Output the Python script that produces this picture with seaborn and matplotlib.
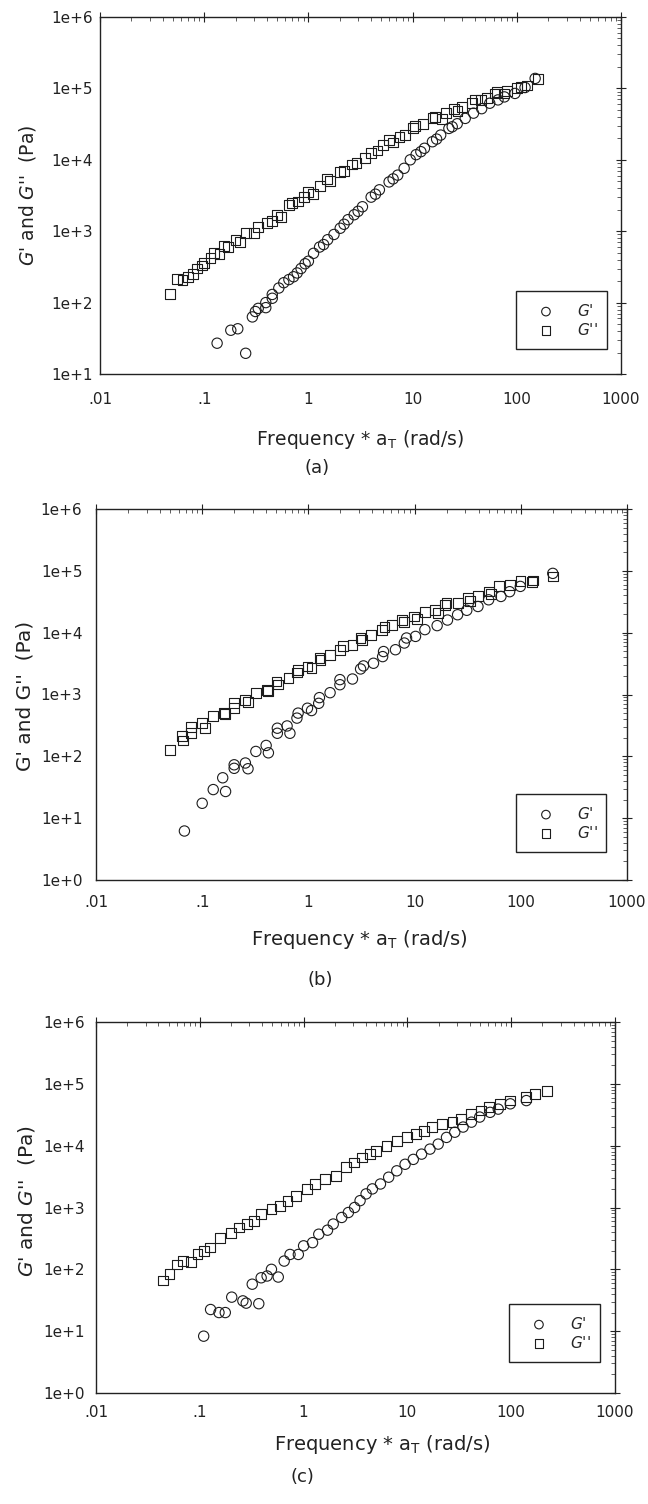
import numpy as np
import pandas as pd
import matplotlib
matplotlib.use("Agg")
import matplotlib.pyplot as plt
from matplotlib.ticker import LogLocator, NullFormatter
import seaborn as sns

# ---------------- data ----------------
a_gpp_x = [0.047, 0.055, 0.062, 0.07, 0.078, 0.085, 0.095, 0.1, 0.115, 0.125, 0.14, 0.155, 0.17, 0.2, 0.22,
           0.25, 0.3, 0.33, 0.4, 0.45, 0.5, 0.55, 0.65, 0.7, 0.8, 0.9, 1.0, 1.1, 1.3, 1.5, 1.6, 2.0, 2.2,
           2.6, 2.9, 3.5, 4.0, 4.6, 5.2, 5.9, 6.5, 7.5, 8.5, 10.0, 10.5, 12.5, 15.5, 16.5, 19, 21, 25, 27,
           30, 37, 40, 45, 52, 62, 65, 75, 80, 100, 110, 125, 160]
a_gpp_y = [132, 215, 210, 230, 250, 300, 330, 360, 420, 500, 480, 620, 600, 760, 700,
           950, 950, 1150, 1300, 1400, 1700, 1600, 2300, 2500, 2600, 3000, 3500, 3300, 4300, 5400, 5000, 6800, 7000,
           8600, 9000, 10500, 12500, 13500, 16000, 19000, 17500, 21000, 22500, 28000, 30000, 32000, 38000, 40000, 37000, 45000, 52000, 48000,
           55000, 62000, 70000, 68000, 74000, 85000, 90000, 85000, 92000, 100000, 105000, 110000, 135000]
a_gp_x = [0.133, 0.18, 0.21, 0.25, 0.29, 0.31, 0.33, 0.39, 0.39, 0.45, 0.45, 0.52, 0.58, 0.65, 0.72, 0.78,
          0.85, 0.93, 1.0, 1.12, 1.28, 1.4, 1.53, 1.76, 2.02, 2.2, 2.4, 2.75, 3.0, 3.3, 4.0, 4.4, 4.8, 5.95,
          6.5, 7.2, 8.3, 9.5, 10.8, 12, 13.0, 15.5, 17, 18.6, 22.3, 24, 26.8, 32, 38.4, 46, 55, 66, 76, 96,
          120, 150]
a_gp_y = [27, 41, 43, 19.5, 63, 75, 83, 85, 100, 130, 115, 160, 190, 210, 230, 260,
          300, 350, 380, 490, 600, 650, 760, 900, 1100, 1250, 1450, 1700, 1900, 2200, 3000, 3300, 3800, 4900,
          5400, 6100, 7600, 10000, 11800, 13000, 14500, 17900, 19500, 22200, 27500, 29000, 32000, 38000, 45000, 52000, 62000, 69000, 76000, 85000,
          103000, 138000]

b_gpp_x = [0.050, 0.064, 0.066, 0.079, 0.079, 0.1, 0.106, 0.127, 0.16, 0.165, 0.2, 0.2, 0.255, 0.27, 0.32,
           0.41, 0.42, 0.50, 0.52, 0.65, 0.78, 0.80, 0.98, 1.07, 1.27, 1.3, 1.6, 1.98, 2.1, 2.6, 3.1, 3.2,
           3.9, 4.9, 5.2, 6.1, 7.6, 8.0, 9.9, 10.5, 12.5, 15.7, 16.5, 19.4, 20, 25.4, 31.8, 33, 39.5, 49.8,
           52, 62.4, 78.5, 99.2, 128, 130, 200]
b_gpp_y = [128, 210, 180, 300, 235, 343, 285, 450, 500, 480, 720, 600, 810, 760, 1050,
           1190, 1150, 1620, 1450, 1830, 2270, 2500, 2830, 2700, 3900, 3600, 4400, 5300, 6000, 6300, 8100, 7500,
           9300, 11200, 12500, 13500, 16100, 15000, 18300, 16500, 21300, 23600, 21000, 28400, 30500, 30000, 36000, 33000, 38600, 46400,
           42000, 56400, 59500, 67500, 65000, 70000, 81000]
b_gp_x = [0.068, 0.1, 0.127, 0.166, 0.156, 0.2, 0.2, 0.255, 0.27, 0.32, 0.40, 0.42, 0.51, 0.51, 0.63, 0.67,
          0.78, 0.80, 0.98, 1.07, 1.25, 1.27, 1.6, 1.98, 1.98, 2.6, 3.1, 3.3, 4.1, 5.0, 5.1, 6.6, 8.0, 8.4,
          10.2, 12.5, 16.3, 20.4, 25.4, 31, 39.5, 49.8, 65, 78.5, 99, 200]
b_gp_y = [6.2, 17.4, 29, 27, 45, 73, 64, 78, 63, 120, 150, 114, 236, 285, 310, 236,
          415, 500, 600, 550, 720, 890, 1070, 1440, 1740, 1780, 2590, 2900, 3200, 4100, 4950, 5300, 6800, 8200,
          8700, 11200, 13000, 16000, 19500, 23000, 26500, 34000, 38500, 46000, 56000, 91000]

c_gpp_x = [0.044, 0.051, 0.06, 0.069, 0.083, 0.095, 0.109, 0.125, 0.156, 0.20, 0.24, 0.285, 0.33, 0.39,
           0.49, 0.59, 0.70, 0.85, 1.07, 1.28, 1.62, 2.04, 2.56, 3.04, 3.67, 4.4, 5.0, 6.3, 7.9, 10.0, 12.0,
           14.4, 17.2, 21.6, 27.2, 32.6, 41, 51.6, 61.6, 77.6, 97.8, 140, 169, 220]
c_gpp_y = [66, 83, 120, 138, 130, 175, 200, 225, 325, 390, 475, 540, 605, 775,
           935, 1070, 1290, 1550, 2000, 2400, 2880, 3260, 4450, 5350, 6420, 7300, 8250, 10000, 12000, 13600, 15500,
           17500, 19900, 22300, 24500, 27000, 32500, 37000, 41900, 47700, 53600, 60600, 69000, 75800]
c_gp_x = [0.109, 0.127, 0.153, 0.176, 0.203, 0.26, 0.28, 0.37, 0.32, 0.39, 0.445, 0.57, 0.49, 0.65, 0.74,
          0.89, 1.0, 1.22, 1.4, 1.7, 1.93, 2.33, 2.7, 3.1, 3.5, 4.0, 4.6, 5.5, 6.6, 7.9, 9.5, 11.4, 13.7,
          16.5, 19.8, 23.8, 28.6, 34.4, 41.4, 49.7, 62.6, 75, 98, 140]
c_gp_y = [8.3, 22.4, 20, 20, 35.5, 30.9, 28.4, 27.8, 57.5, 73, 78, 75, 100, 136, 174,
          174, 240, 270, 370, 430, 540, 690, 830, 1000, 1290, 1660, 2000, 2400, 3090, 3920, 5000, 6000, 7300,
          8800, 10600, 13600, 16500, 20000, 24000, 29000, 34600, 39000, 47500, 53600]

x_ticks = [0.01, 0.1, 1, 10, 100, 1000]
x_ticklabels = [".01", ".1", "1", "10", "100", "1000"]
y_ticks = [1, 10, 100, 1e3, 1e4, 1e5, 1e6]
y_ticklabels = ["1e+0", "1e+1", "1e+2", "1e+3", "1e+4", "1e+5", "1e+6"]

# ---------------- style ----------------
sns.set_style("white")
plt.rcParams["font.family"] = ["DejaVu Sans"]
plt.rcParams["mathtext.fontset"] = "dejavusans"

W, H = 648, 1504
fig = plt.figure(figsize=(W / 100, H / 100), dpi=100)

def rect(l, t, r, b):
    return [l / W, 1 - b / H, (r - l) / W, (b - t) / H]

panels = [
    dict(rect=rect(100, 17, 621, 374), ylim=(10, 1e6),
         gp=(a_gp_x, a_gp_y), gpp=(a_gpp_x, a_gpp_y),
         ylabel=r"$G$' and $G$''  (Pa)", ylab_xy=(27, 195), ylab_fs=13.5,
         xlab_xy=(360, 445), xlab_fs=13.5, letter="(a)", letter_xy=(317, 468),
         leg=(516, 291, 607, 353), xpad=9.5, ypad=1.5),
    dict(rect=rect(96, 509, 627, 880), ylim=(1, 1e6),
         gp=(b_gp_x, b_gp_y), gpp=(b_gpp_x, b_gpp_y),
         ylabel="G' and G''  (Pa)", ylab_xy=(25, 696), ylab_fs=14.5,
         xlab_xy=(359, 945), xlab_fs=14, letter="(b)", letter_xy=(320, 980),
         leg=(516, 794, 606, 858), xpad=7.3, ypad=6.3),
    dict(rect=rect(96, 1022, 615, 1393), ylim=(1, 1e6),
         gp=(c_gp_x, c_gp_y), gpp=(c_gpp_x, c_gpp_y),
         ylabel=r"$G$' and $G$''  (Pa)", ylab_xy=(27, 1201), ylab_fs=14.5,
         xlab_xy=(382, 1450), xlab_fs=14, letter="(c)", letter_xy=(302, 1477),
         leg=(509, 1304, 600, 1370), xpad=5, ypad=4.8),
]

ec = "#1c1c1c"
for p in panels:
    ax = fig.add_axes(p["rect"])
    ax.set_xscale("log")
    ax.set_yscale("log")
    df1 = pd.DataFrame({"f": p["gp"][0], "G": p["gp"][1]})
    df2 = pd.DataFrame({"f": p["gpp"][0], "G": p["gpp"][1]})
    sns.scatterplot(data=df1, x="f", y="G", ax=ax, marker="o", s=55,
                    facecolors="none", edgecolor=ec, linewidth=0.8, label="$G$'")
    ax.collections[-1].set_facecolor("none")
    sns.scatterplot(data=df2, x="f", y="G", ax=ax, marker="s", s=50,
                    facecolors="none", edgecolor=ec, linewidth=0.8, label="$G$''")
    ax.collections[-1].set_facecolor("none")

    ax.set_xlim(0.01, 1000)
    ax.set_ylim(*p["ylim"])
    ax.set_xticks(x_ticks)
    ax.set_xticklabels(x_ticklabels)
    yt = [t for t in y_ticks if p["ylim"][0] <= t <= p["ylim"][1]]
    ax.set_yticks(yt)
    ax.set_yticklabels([y_ticklabels[y_ticks.index(t)] for t in yt])
    ax.xaxis.set_minor_locator(LogLocator(base=10, subs=np.arange(2, 10), numticks=20))
    ax.yaxis.set_minor_locator(LogLocator(base=10, subs=np.arange(2, 10), numticks=20))
    ax.xaxis.set_minor_formatter(NullFormatter())
    ax.yaxis.set_minor_formatter(NullFormatter())
    ax.tick_params(which="major", direction="inout", length=7, width=0.8, color="#222222",
                   top=True, right=True, labelsize=11, labelcolor="#222222")
    ax.tick_params(which="minor", direction="in", length=3, width=0.6, color="#444444",
                   top=True, right=True)
    ax.tick_params(axis="x", which="major", pad=p["xpad"])
    ax.tick_params(axis="y", which="major", pad=p["ypad"])
    for s in ax.spines.values():
        s.set_color("#222222")
        s.set_linewidth(1.0)

    ax.set_xlabel(r"Frequency * a$_{\rm T}$ (rad/s)", fontsize=p["xlab_fs"], color="#222222")
    ax.xaxis.label.set_va("baseline")
    ax.xaxis.set_label_coords(p["xlab_xy"][0] / W, 1 - p["xlab_xy"][1] / H, transform=fig.transFigure)
    ax.set_ylabel(p["ylabel"], fontsize=p["ylab_fs"], color="#222222")
    ax.yaxis.label.set_va("center")
    ax.yaxis.set_label_coords(p["ylab_xy"][0] / W, 1 - p["ylab_xy"][1] / H, transform=fig.transFigure)

    l, t, r, b = p["leg"]
    fs = 11
    leg = ax.legend(loc="upper left", bbox_to_anchor=(l / W, 1 - b / H, (r - l) / W, (b - t) / H),
                    bbox_transform=fig.transFigure, mode="expand", borderaxespad=0,
                    fontsize=fs, frameon=True, fancybox=False, framealpha=1,
                    edgecolor="#222222", borderpad=0.76, labelspacing=0.2,
                    handlelength=2.4, handletextpad=0.82, scatterpoints=1)
    leg.get_frame().set_linewidth(1.0)
    for h in leg.legend_handles:
        h.set_facecolor("none")
        h.set_edgecolor(ec)
        h.set_sizes([38])

    fig.text(p["letter_xy"][0] / W, 1 - p["letter_xy"][1] / H, p["letter"], ha="center", va="center",
             fontsize=13, color="#222222")

fig.savefig("out.png", dpi=100)
